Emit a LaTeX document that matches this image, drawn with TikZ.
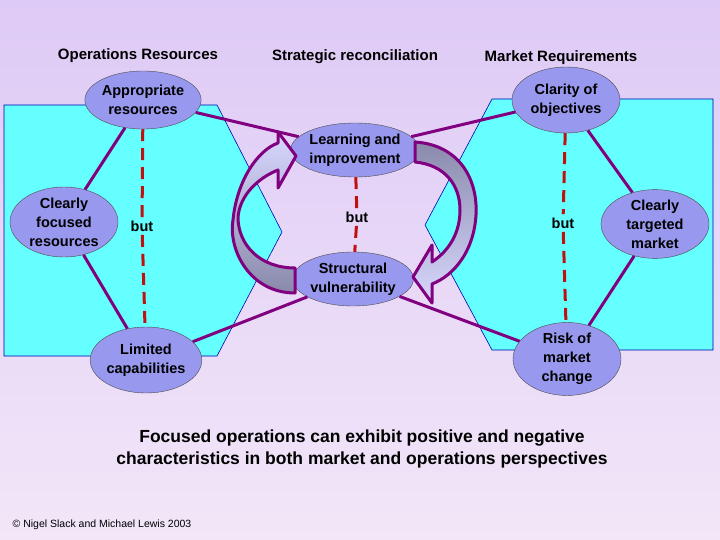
\documentclass[tikz,border=0pt]{standalone}
\usepackage{fontspec}
\setmainfont{Liberation Sans}
\usetikzlibrary{shapes.geometric}
\definecolor{bgtop}{RGB}{222,202,246}
\definecolor{bgbot}{RGB}{242,230,248}
\definecolor{lav}{RGB}{152,152,238}
\definecolor{cyanbox}{RGB}{102,255,255}
\definecolor{plum}{RGB}{128,0,128}
\definecolor{dashred}{RGB}{192,16,16}
\begin{document}
\begin{tikzpicture}[
    x=1pt, y=-1pt,
    oval/.style={
        ellipse,
        draw=black!70,
        fill=lav,
        inner sep=0pt,
        align=center,
        font=\fontsize{14.5}{19}\selectfont\bfseries
    },
    title/.style={font=\fontsize{15}{18}\selectfont\bfseries},
    but/.style={font=\fontsize{14.5}{17}\selectfont\bfseries},
    link/.style={plum, line width=3pt},
    split/.style={dashred, line width=3pt, dash pattern=on 12pt off 7pt},
    band/.style={draw=plum, line width=3pt, line join=round},
    zone/.style={fill=cyanbox, draw=blue!70!black, line width=0.6pt}
]
\useasboundingbox (0,0) rectangle (720,540);
\shade[top color=bgtop, bottom color=bgbot] (0,0) rectangle (720,540);

% Zones
\draw[zone] (4,105) -- (217,105) -- (282,232) -- (217,356) -- (4,356) -- cycle;
\draw[zone] (492,99) -- (713,99) -- (713,350) -- (492,350) -- (425,225) -- cycle;

% Titles
\node[title] (t1) at (138,56) {Operations Resources};
\node[title] (t2) at (355,57) {Strategic reconciliation};
\node[title] (t3) at (561,58) {Market Requirements};

% Ellipses
\node[oval, minimum width=108pt, minimum height=58pt] (appr) at (143,100) {Appropriate\\resources};
\node[oval, minimum width=108pt, minimum height=70pt] (focus) at (64,222) {Clearly\\focused\\resources};
\node[oval, minimum width=108pt, minimum height=66pt] (limit) at (146,360) {Limited\\capabilities};
\node[oval, minimum width=110pt, minimum height=54pt] (learn) at (355,150) {Learning and\\improvement};
\node[oval, minimum width=114pt, minimum height=54pt] (struct) at (353,279) {Structural\\vulnerability};
\node[oval, minimum width=108pt, minimum height=66pt] (clar) at (566,100) {Clarity of\\objectives};
\node[oval, minimum width=108pt, minimum height=66pt] (target) at (655,224) {Clearly\\targeted\\market};
\node[oval, minimum width=108pt, minimum height=66pt] (risk) at (567,359) {Risk of\\market\\change};

% but labels
\node[but] (but1) at (142,226) {but};
\node[but] (but2) at (357,217) {but};
\node[but] (but3) at (563,223) {but};

% Links
\draw[link] (focus) -- (appr);
\draw[link] (focus) -- (limit);
\draw[link] (appr) -- (learn);
\draw[link] (limit) -- (struct);
\draw[link] (clar) -- (learn);
\draw[link] (risk) -- (struct);
\draw[link] (target) -- (clar);
\draw[link] (target) -- (risk);

% Dashes
\draw[split] (appr) -- (but1);
\draw[split] (but1) -- (limit);
\draw[split] (learn) -- (but2);
\draw[split] (but2) -- (struct);
\draw[split] (clar) -- (but3);
\draw[split] (but3) -- (risk);

% Curved arrows
\shade[top color=blue!15, bottom color=gray!60!lav] (295,293) .. controls (250,293) and (228,250) .. (233,220)
    .. controls (237,180) and (258,150) .. (278,143) -- (278,132) -- (296,156) -- (278,188) -- (278,170)
    .. controls (258,178) and (240,195) .. (238,217) .. controls (238,245) and (260,268) .. (295,268) -- cycle;
\draw[band] (295,293) .. controls (250,293) and (228,250) .. (233,220)
    .. controls (237,180) and (258,150) .. (278,143) -- (278,132) -- (296,156) -- (278,188) -- (278,170)
    .. controls (258,178) and (240,195) .. (238,217) .. controls (238,245) and (260,268) .. (295,268) -- cycle;
\shade[top color=gray!60!lav, bottom color=blue!15] (415,142) .. controls (460,145) and (478,180) .. (476,215)
    .. controls (474,250) and (455,275) .. (432,284) -- (432,303) -- (413,277) -- (432,245) -- (432,262)
    .. controls (450,250) and (460,232) .. (460,210) .. controls (460,185) and (445,165) .. (415,162) -- cycle;
\draw[band] (415,142) .. controls (460,145) and (478,180) .. (476,215)
    .. controls (474,250) and (455,275) .. (432,284) -- (432,303) -- (413,277) -- (432,245) -- (432,262)
    .. controls (450,250) and (460,232) .. (460,210) .. controls (460,185) and (445,165) .. (415,162) -- cycle;

% Caption
\node[font=\fontsize{17.5}{22}\selectfont\bfseries, align=center] (cap) at (362,449) {Focused operations can exhibit positive and negative\\characteristics in both market and operations perspectives};
\node[font=\fontsize{10.5}{12}\selectfont] (copy) at (102,525) {\textcopyright{} Nigel Slack and Michael Lewis 2003};
\end{tikzpicture}
\end{document}
